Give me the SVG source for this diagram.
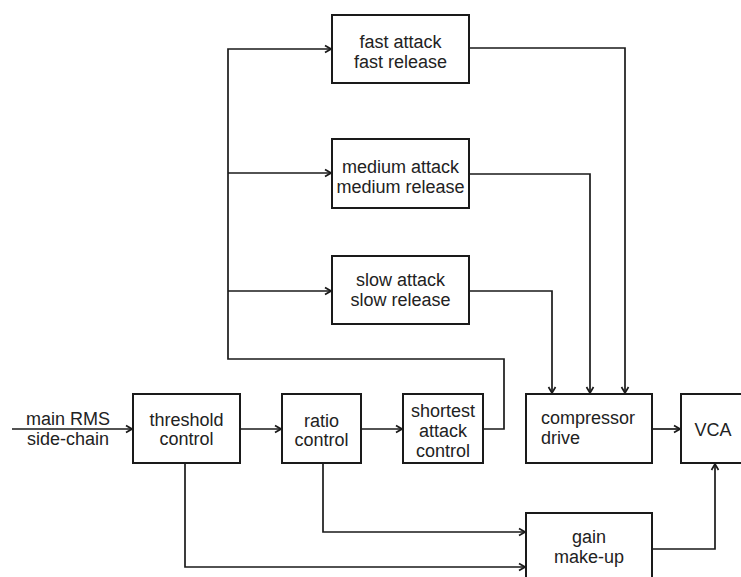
<svg xmlns="http://www.w3.org/2000/svg" width="741" height="577" viewBox="0 0 741 577">
<style>
.box{fill:#fff;stroke:#1a1a1a;stroke-width:2}
.c{fill:none;stroke:#1a1a1a;stroke-width:1.7}
text{font-family:"Liberation Sans",Arial,sans-serif;font-size:18px;fill:#222}
.m{text-anchor:middle}
</style>
<defs>
<marker id="ar" viewBox="0 0 10 10" refX="9" refY="5" markerWidth="10" markerHeight="10" markerUnits="userSpaceOnUse" orient="auto">
<path d="M3,1.5 L9,5 L3,8.5" fill="none" stroke="#1a1a1a" stroke-width="1.7"/>
</marker>
</defs>
<rect width="741" height="577" fill="#fff"/>
<g id="connectors">
<path class="c" d="M12,429 H132" marker-end="url(#ar)"/>
<path class="c" d="M240,429 H281" marker-end="url(#ar)"/>
<path class="c" d="M361,429 H402" marker-end="url(#ar)"/>
<path class="c" d="M483,429 H504 V359 H228 V49 H331" marker-end="url(#ar)"/>
<path class="c" d="M228,173 H331" marker-end="url(#ar)"/>
<path class="c" d="M228,291 H331" marker-end="url(#ar)"/>
<path class="c" d="M469,48 H625 V393" marker-end="url(#ar)"/>
<path class="c" d="M469,174 H590 V393" marker-end="url(#ar)"/>
<path class="c" d="M469,291 H552 V393" marker-end="url(#ar)"/>
<path class="c" d="M652,429 H680" marker-end="url(#ar)"/>
<path class="c" d="M185,463 V567 H525" marker-end="url(#ar)"/>
<path class="c" d="M323,463 V532 H525" marker-end="url(#ar)"/>
<path class="c" d="M652,549 H715 V464" marker-end="url(#ar)"/>
</g>
<g id="input-label">
<text class="m" x="68" y="425">main RMS</text>
<text class="m" x="68" y="445">side-chain</text>
</g>
<g id="fast">
<rect class="box" x="332" y="15" width="137" height="68"/>
<text class="m" x="400.5" y="48">fast attack</text>
<text class="m" x="400.5" y="68">fast release</text>
</g>
<g id="medium">
<rect class="box" x="332" y="139" width="137" height="69"/>
<text class="m" x="400.5" y="172.5">medium attack</text>
<text class="m" x="400.5" y="192.5">medium release</text>
</g>
<g id="slow">
<rect class="box" x="332" y="256" width="137" height="68"/>
<text class="m" x="400.5" y="286">slow attack</text>
<text class="m" x="400.5" y="306">slow release</text>
</g>
<g id="threshold">
<rect class="box" x="133" y="394" width="107" height="69"/>
<text class="m" x="186.5" y="425.5">threshold</text>
<text class="m" x="186.5" y="445">control</text>
</g>
<g id="ratio">
<rect class="box" x="282" y="394" width="79" height="69"/>
<text class="m" x="321.5" y="426.5">ratio</text>
<text class="m" x="321.5" y="446">control</text>
</g>
<g id="shortest">
<rect class="box" x="403" y="394" width="80" height="69"/>
<text class="m" x="443" y="416.5">shortest</text>
<text class="m" x="443" y="436.5">attack</text>
<text class="m" x="443" y="456.5">control</text>
</g>
<g id="compressor">
<rect class="box" x="526" y="394" width="126" height="69"/>
<text x="541" y="424">compressor</text>
<text x="541" y="444">drive</text>
</g>
<g id="vca">
<rect class="box" x="681" y="394" width="70" height="69"/>
<text x="694.5" y="436">VCA</text>
</g>
<g id="gain">
<rect class="box" x="526" y="513" width="126" height="80"/>
<text class="m" x="589" y="543">gain</text>
<text class="m" x="589" y="563">make-up</text>
</g>
</svg>
